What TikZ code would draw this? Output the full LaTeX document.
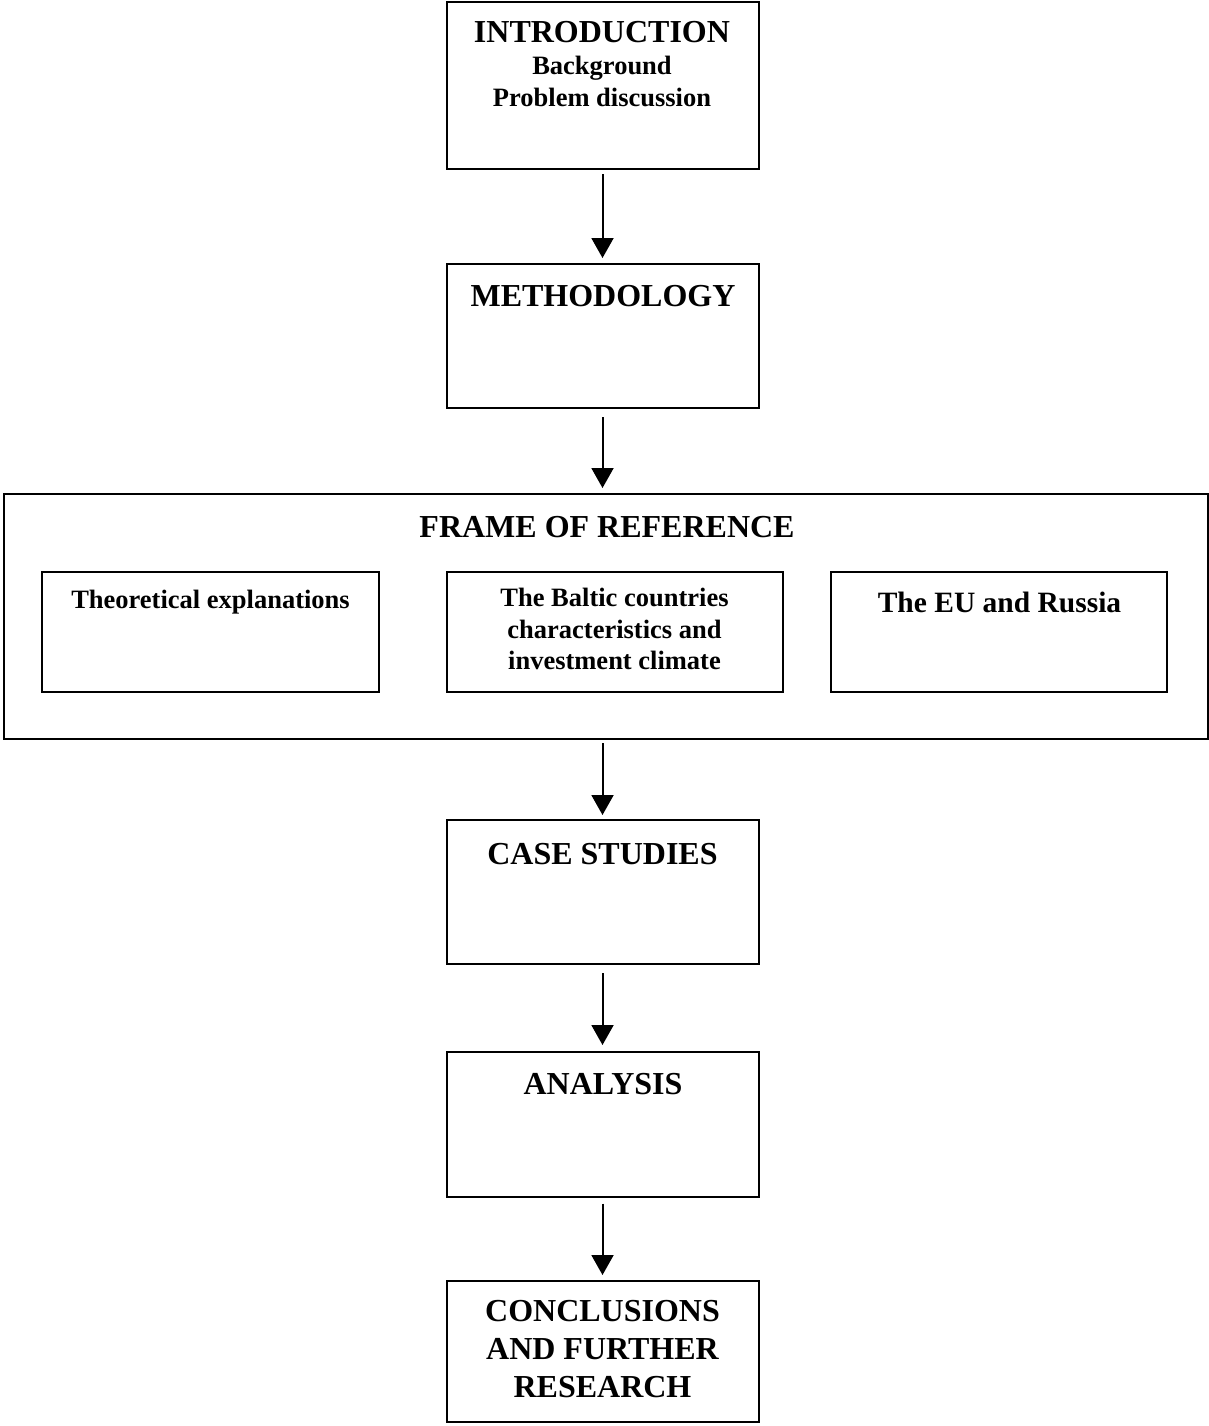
\documentclass[tikz,border=0pt]{standalone}
\usepackage{fontspec}
\setmainfont{Liberation Serif}
\usetikzlibrary{arrows.meta}
\newcommand{\bigsz}{\fontsize{32}{37.5}\selectfont\bfseries}
\newcommand{\smallsz}{\fontsize{26.5}{31.2}\selectfont\bfseries}
\newcommand{\midsz}{\fontsize{29.5}{34}\selectfont\bfseries}
% centred stack of lines whose baseline is that of the first line
\newcommand{\lines}[2]{{#1\setlength{\tabcolsep}{0pt}\begin{tabular}[t]{c}#2\end{tabular}}}
\begin{document}
\begin{tikzpicture}[x=1pt,y=-1pt,
  boxline/.style={draw=black,line width=2pt},
  label/.style={inner sep=0pt,anchor=base,text=black},
  flow/.style={line width=2pt,-{Triangle[length=20pt,width=22pt]}}]
\useasboundingbox (0,0) rectangle (1209,1426);

% main chain of boxes
\draw[boxline] (446.5,2) rectangle (758.5,169);
\coordinate (intro) at (602.5,169);
\draw[boxline] (446.5,264) rectangle (758.5,408);
\coordinate (methT) at (602.5,264); \coordinate (methB) at (602.5,408);
\draw[boxline] (4,494) rectangle (1208,738.5);
\coordinate (frameT) at (602.5,494); \coordinate (frameB) at (602.5,738.5);
\draw[boxline] (446.5,820) rectangle (758.5,963.5);
\coordinate (caseT) at (602.5,820); \coordinate (caseB) at (602.5,963.5);
\draw[boxline] (446.5,1052) rectangle (758.5,1196.5);
\coordinate (anaT) at (602.5,1052); \coordinate (anaB) at (602.5,1196.5);
\draw[boxline] (446.5,1281) rectangle (758.5,1422);
\coordinate (concT) at (602.5,1281);

% sub-boxes of the frame of reference
\draw[boxline] (42,572) rectangle (378.5,692);
\draw[boxline] (446.5,572) rectangle (782.5,692);
\draw[boxline] (830.5,572) rectangle (1167,692);

% texts
\node[label] (tIntro) at (602,42.5) {\lines{\fontsize{26.5}{32}\selectfont\bfseries}{\bigsz INTRODUCTION\\Background\\Problem discussion}};
\node[label] (tMeth) at (603,306) {\bigsz METHODOLOGY};
\node[label] (tFrame) at (607,537) {\bigsz FRAME OF REFERENCE};
\node[label] (tTheo) at (210.5,608.5) {\smallsz Theoretical explanations};
\node[label] (tBalt) at (614.5,606.5) {\lines{\fontsize{26.5}{31.5}\selectfont\bfseries}{The Baltic countries\\characteristics and\\investment climate}};
\node[label] (tEU) at (999.5,612) {\midsz The EU and Russia};
\node[label] (tCase) at (602.5,864) {\bigsz CASE STUDIES};
\node[label] (tAna) at (603,1094) {\bigsz ANALYSIS};
\node[label] (tConc) at (602.5,1321.5) {\lines{\fontsize{32}{38}\selectfont\bfseries}{CONCLUSIONS\\AND FURTHER\\RESEARCH}};

% connectors (y axis points down, so a negative yshift moves down)
\draw[flow] ([yshift=-5pt]intro) -- ([yshift=6pt]methT);
\draw[flow] ([yshift=-9pt]methB) -- ([yshift=6pt]frameT);
\draw[flow] ([yshift=-4.5pt]frameB) -- ([yshift=5pt]caseT);
\draw[flow] ([yshift=-9.5pt]caseB) -- ([yshift=7pt]anaT);
\draw[flow] ([yshift=-7pt]anaB) -- ([yshift=6pt]concT);
\end{tikzpicture}
\end{document}
